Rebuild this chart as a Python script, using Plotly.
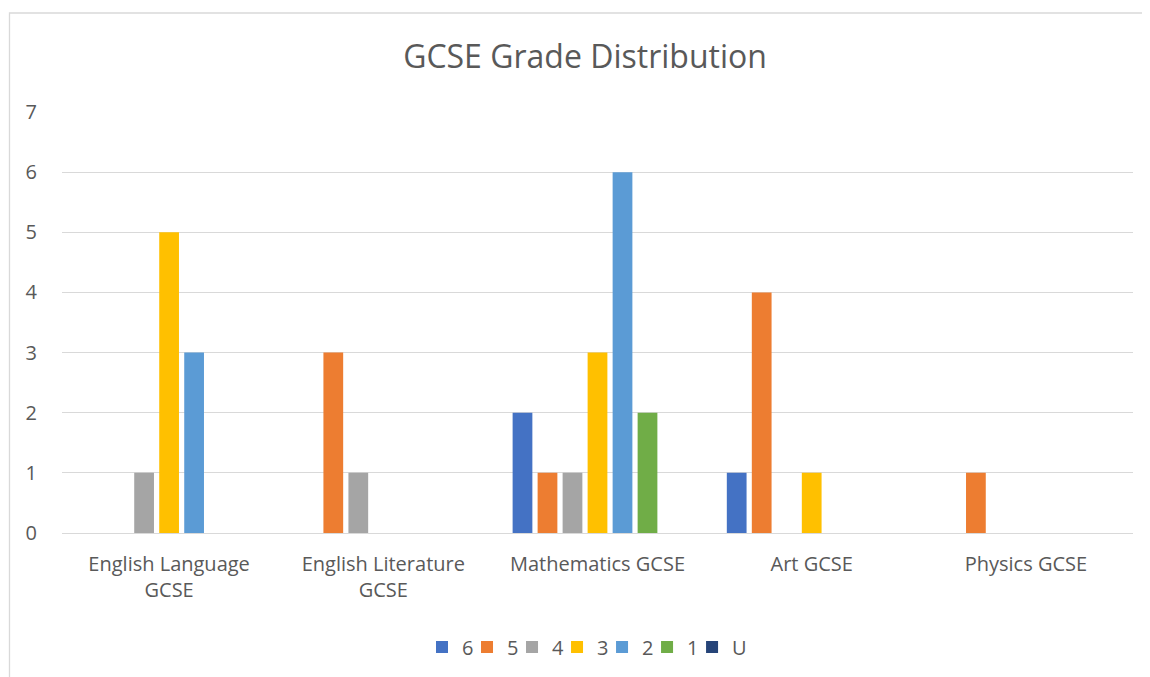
import plotly.graph_objects as go

categories = ["English Language<br>GCSE", "English Literature<br>GCSE", "Mathematics GCSE", "Art GCSE", "Physics GCSE"]
grades = ["6", "5", "4", "3", "2", "1", "U"]
grade_6 = [0, 0, 2, 1, 0]
grade_5 = [0, 3, 1, 4, 1]
grade_4 = [1, 1, 1, 0, 0]
grade_3 = [5, 0, 3, 1, 0]
grade_2 = [3, 0, 6, 0, 0]
grade_1 = [0, 0, 2, 0, 0]
grade_U = [0, 0, 0, 0, 0]
series = [grade_6, grade_5, grade_4, grade_3, grade_2, grade_1, grade_U]
colors = ["#4472C4", "#ED7D31", "#A5A5A5", "#FFC000", "#5B9BD5", "#70AD47", "#264478"]

FONT = "Open Sans"
TXT = "#595959"

# page body has an 8px margin, so the figure is laid out 8px smaller
W, H = 1142, 669
L, R, T, B = 54, 17, 104, 144
PW, PH = W - L - R, H - T - B

fig = go.Figure()
for i, (name, vals, col) in enumerate(zip(grades, series, colors)):
    fig.add_trace(go.Bar(x=categories, y=vals, name=name,
                         marker=dict(color=col, line=dict(width=0)),
                         legendwidth=(15 if i == len(grades) - 1 else 0.01)))

fig.update_layout(
    width=W, height=H,
    margin=dict(l=L, r=R, t=T, b=B, autoexpand=False),
    paper_bgcolor="white", plot_bgcolor="white",
    barmode="group", bargap=0.183, bargroupgap=0.21,
    title=dict(text="GCSE Grade Distribution", x=577 / W, xanchor="center", y=1 - 49 / H, yanchor="middle",
               font=dict(family=FONT, size=32, color=TXT)),
    font=dict(family=FONT, color=TXT),
    legend=dict(orientation="h", x=(439 - 25 - L) / PW, xanchor="left",
                yref="container", y=1 - 639 / H, yanchor="middle",
                font=dict(family=FONT, size=20, color=TXT), itemwidth=30, traceorder="normal",
                entrywidthmode="pixels"),
    showlegend=True,
)
fig.update_yaxes(range=[0, 7], dtick=1, showgrid=True, gridcolor="#D9D9D9", gridwidth=1.3,
                 zeroline=True, zerolinecolor="#D9D9D9", zerolinewidth=1.3,
                 showline=False, ticks="", ticklabelstandoff=24,
                 tickfont=dict(family=FONT, size=20, color=TXT))
fig.update_xaxes(showline=False, ticks="", showgrid=False, ticklabelstandoff=17,
                 tickfont=dict(family=FONT, size=20, color=TXT))

fig.add_shape(type="rect", xref="paper", yref="paper",
              x0=(1.5 - L) / PW, x1=1.2, y0=-0.6, y1=(H - B - 5) / PH,
              line=dict(color="#D9D9D9", width=1.3), fillcolor="rgba(0,0,0,0)", layer="below")

fig.write_html("out.html")
